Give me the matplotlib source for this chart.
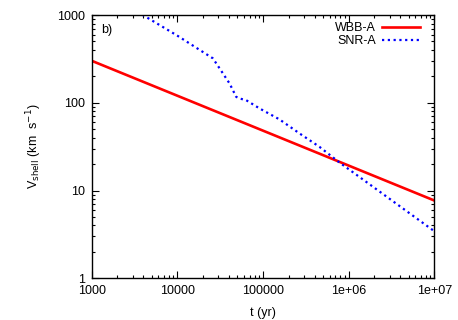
import matplotlib
matplotlib.use('Agg')
import matplotlib.pyplot as plt
from matplotlib.ticker import FixedLocator, FixedFormatter, LogLocator, NullFormatter

plt.rcParams['font.family'] = ['Liberation Sans', 'DejaVu Sans']
plt.rcParams['font.size'] = 9

# WBB-A: straight power law
wbb_t = [1000, 1e7]
wbb_v = [301, 7.7]

# SNR-A
snr_t = [3000, 3960, 10000, 26000, 31100, 40700, 48600, 53200, 63700,
         91000, 155600, 266500, 456000, 780000, 1e7]
snr_v = [1180, 1000, 582, 321, 247, 166, 117, 112, 107,
         86.3, 64.7, 44.8, 31.5, 20.9, 3.44]

xticks = [1e3, 1e4, 1e5, 1e6, 1e7]
xlabels = ['1000', '10000', '100000', '1e+06', '1e+07']
yticks = [1, 10, 100, 1000]
ylabels = ['1', '10', '100', '1000']

fig = plt.figure(figsize=(4.58, 3.2), dpi=100)
ax = fig.add_axes([0.2002, 0.1303, 0.7481, 0.8227])

ax.plot(wbb_t, wbb_v, color='#ff0000', lw=1.9, label='WBB-A')
ax.plot(snr_t, snr_v, color='#0000ff', lw=1.6, linestyle=(0, (1, 1.6)), label='SNR-A')

ax.set_xscale('log')
ax.set_yscale('log')
ax.set_xlim(1e3, 1e7)
ax.set_ylim(1, 1000)

ax.xaxis.set_major_locator(FixedLocator(xticks))
ax.xaxis.set_major_formatter(FixedFormatter(xlabels))
ax.yaxis.set_major_locator(FixedLocator(yticks))
ax.yaxis.set_major_formatter(FixedFormatter(ylabels))
ax.xaxis.set_minor_locator(LogLocator(base=10, subs=range(2, 10), numticks=20))
ax.yaxis.set_minor_locator(LogLocator(base=10, subs=range(2, 10), numticks=20))
ax.xaxis.set_minor_formatter(NullFormatter())
ax.yaxis.set_minor_formatter(NullFormatter())
ax.tick_params(which='both', direction='in', top=True, right=True, width=0.8)
ax.tick_params(which='major', length=5, pad=5)
ax.tick_params(which='minor', length=2.5)
for s in ax.spines.values():
    s.set_linewidth(1.0)

ax.set_xlabel('t (yr)', labelpad=7)
ax.set_ylabel(r'V$_{\mathrm{shell}}$ (km  s$^{\mathrm{-1}}$)', labelpad=9)
ax.text(0.028, 0.945, 'b)', transform=ax.transAxes, ha='left', va='center')

ax.legend(loc='upper right', frameon=False, markerfirst=False, handlelength=3.0,
          handletextpad=0.5, labelspacing=0.1, borderaxespad=0, borderpad=0,
          bbox_to_anchor=(0.958, 0.973))

fig.savefig('out.png', dpi=100)
